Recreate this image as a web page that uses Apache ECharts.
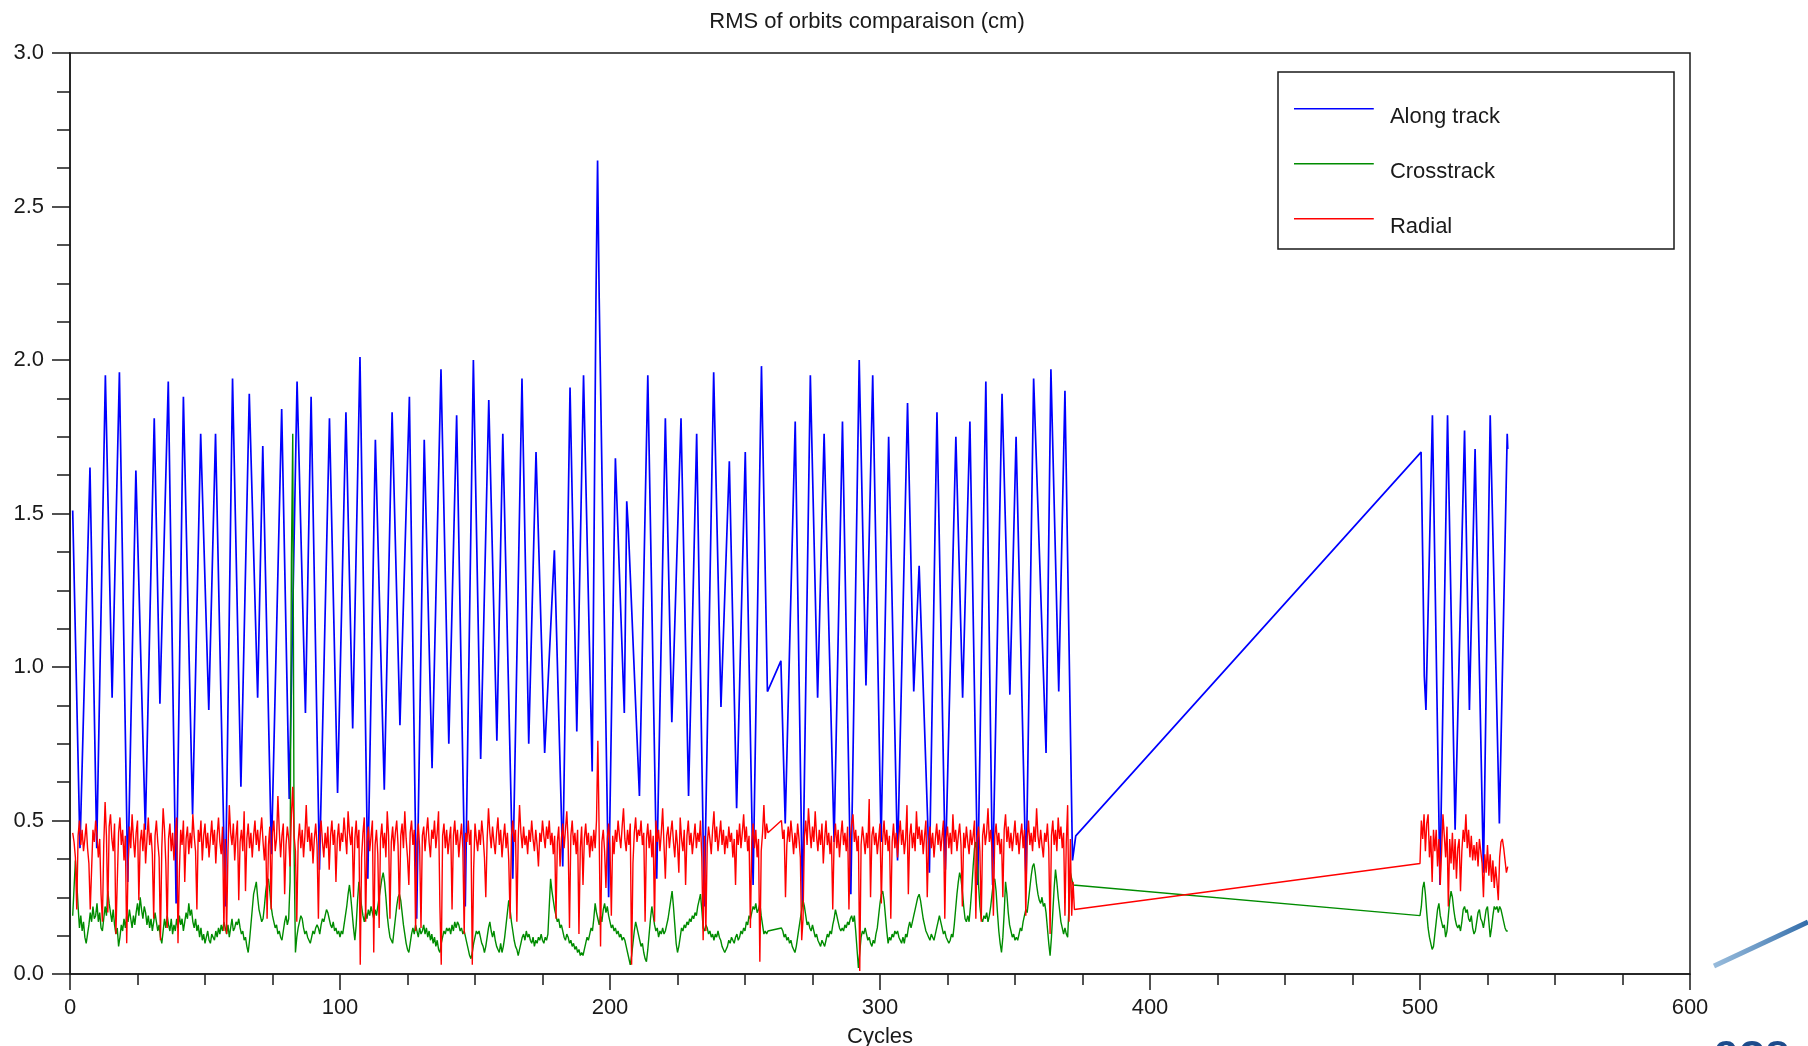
<!DOCTYPE html>
<html>
<head>
<meta charset="utf-8">
<title>RMS of orbits comparaison (cm)</title>
<script src="https://cdn.jsdelivr.net/npm/echarts@6/dist/echarts.min.js"></script>
<style>
html, body { margin: 0; padding: 0; background: #fff; }
#chart { width: 1808px; height: 1046px; }
</style>
</head>
<body>
<div id="chart"></div>
<script>
// series names (legend order)
const seriesNames = ['Along track', 'Crosstrack', 'Radial'];
const xTicks = [0, 100, 200, 300, 400, 500, 600];

// Along track: peaks and troughs [cycle], [cm]
const alongCycles = [
  1.0, 3.7, 7.4, 9.9, 13.1, 15.6, 18.3, 21.4, 24.4, 27.9, 31.2, 33.3, 36.4, 39.3, 42.0, 45.4, 48.4, 51.4, 53.9, 57.5,
  60.2, 63.3, 66.4, 69.5, 71.4, 74.6, 78.4, 81.2, 84.1, 87.2, 89.3, 92.4, 96.1, 99.1, 102.2, 104.7, 107.4, 110.3, 113.1, 116.4,
  119.3, 122.2, 125.7, 128.4, 131.2, 134.1, 137.4, 140.3, 143.2, 146.4, 149.4, 152.1, 155.1, 158.1, 160.3, 164.0, 167.4, 169.9, 172.6, 175.8,
  179.4, 182.5, 185.2, 187.7, 190.2, 193.4, 194.8, 195.4, 196.0, 199.5, 202.0, 202.7, 205.3, 206.2, 206.8, 210.9, 214.0, 217.3, 220.5, 222.9,
  226.3, 229.1, 232.1, 234.9, 238.4, 241.1, 244.2, 246.9, 250.1, 253.0, 256.1, 258.3, 263.3, 264.9, 268.6, 271.3, 274.2, 276.9, 279.3, 283.0,
  286.1, 289.2, 292.3, 294.8, 297.3, 300.4, 303.2, 306.5, 310.2, 312.5, 314.5, 318.3, 321.1, 324.2, 328.1, 330.6, 333.3, 336.2, 339.2, 341.7,
  345.2, 348.1, 350.4, 354.1, 356.9, 361.5, 363.3, 366.2, 368.5, 371.3, 372.5,
  500.4, 501.0, 501.6, 502.2, 504.6, 507.4, 510.2, 513.0, 516.5, 518.3, 520.4, 523.5, 526.0, 529.4, 532.3, 532.5
];
const alongValues = [
  1.51, 0.41, 1.65, 0.41, 1.95, 0.90, 1.96, 0.30, 1.64, 0.47, 1.81, 0.88, 1.93, 0.23, 1.88, 0.52, 1.76, 0.86, 1.76, 0.22,
  1.94, 0.61, 1.89, 0.90, 1.72, 0.39, 1.84, 0.57, 1.93, 0.85, 1.88, 0.34, 1.81, 0.59, 1.83, 0.80, 2.01, 0.31, 1.74, 0.60,
  1.83, 0.81, 1.88, 0.18, 1.74, 0.67, 1.97, 0.75, 1.82, 0.22, 2.00, 0.70, 1.87, 0.76, 1.76, 0.31, 1.94, 0.75, 1.70, 0.72,
  1.38, 0.35, 1.91, 0.79, 1.95, 0.66, 2.20, 2.65, 2.20, 0.25, 1.68, 1.68, 0.85, 1.54, 1.45, 0.58, 1.95, 0.31, 1.81, 0.82,
  1.81, 0.58, 1.76, 0.22, 1.96, 0.87, 1.67, 0.54, 1.70, 0.29, 1.98, 0.92, 1.02, 0.49, 1.80, 0.22, 1.95, 0.90, 1.76, 0.43,
  1.80, 0.26, 2.00, 0.94, 1.95, 0.43, 1.75, 0.37, 1.86, 0.92, 1.33, 0.33, 1.83, 0.34, 1.75, 0.90, 1.80, 0.29, 1.93, 0.29,
  1.89, 0.91, 1.75, 0.30, 1.94, 0.72, 1.97, 0.92, 1.90, 0.37, 0.45,
  1.70, 1.36, 0.97, 0.86, 1.82, 0.29, 1.82, 0.47, 1.77, 0.86, 1.71, 0.33, 1.82, 0.49, 1.76, 1.71
];

// Radial and Crosstrack are sampled every half cycle
const sampleStep = 0.5;
const firstStart = 1;     // first block: cycles 1 .. 372
const secondStart = 500;  // second block: cycles 500 .. 532.5

const radialFirst = [
  0.46,0.43,0.38,0.21,0.45,0.50,0.42,0.47,0.40,0.44,0.49,0.41,0.36,0.21,0.34,0.47,0.43,0.50,0.45,0.38,
  0.44,0.26,0.17,0.42,0.56,0.45,0.20,0.48,0.52,0.44,0.40,0.49,0.13,0.30,0.46,0.51,0.42,0.47,0.37,0.45,
  0.10,0.35,0.48,0.41,0.52,0.44,0.38,0.46,0.50,0.24,0.43,0.47,0.40,0.49,0.36,0.44,0.51,0.42,0.46,0.39,
  0.18,0.45,0.50,0.43,0.38,0.11,0.41,0.54,0.47,0.36,0.15,0.44,0.49,0.40,0.46,0.37,0.45,0.51,0.10,0.33,
  0.47,0.42,0.50,0.30,0.44,0.48,0.39,0.46,0.41,0.52,0.45,0.40,0.21,0.47,0.43,0.50,0.37,0.45,0.49,0.41,
  0.46,0.38,0.44,0.50,0.42,0.47,0.36,0.45,0.51,0.43,0.39,0.48,0.14,0.44,0.13,0.40,0.55,0.46,0.42,0.49,
  0.37,0.45,0.50,0.24,0.43,0.47,0.40,0.53,0.27,0.44,0.49,0.41,0.46,0.38,0.45,0.50,0.42,0.47,0.40,0.46,
  0.51,0.43,0.37,0.45,0.18,0.42,0.48,0.21,0.46,0.50,0.40,0.44,0.58,0.47,0.38,0.45,0.49,0.26,0.42,0.48,
  0.44,0.35,0.52,0.61,0.45,0.40,0.17,0.43,0.49,0.41,0.47,0.38,0.45,0.55,0.43,0.48,0.40,0.46,0.36,0.44,
  0.49,0.42,0.18,0.45,0.50,0.43,0.38,0.46,0.41,0.48,0.34,0.45,0.50,0.42,0.47,0.30,0.44,0.49,0.40,0.46,
  0.43,0.51,0.45,0.39,0.53,0.46,0.42,0.48,0.25,0.44,0.50,0.41,0.47,0.03,0.38,0.46,0.51,0.17,0.43,0.48,
  0.40,0.45,0.50,0.07,0.42,0.47,0.39,0.15,0.44,0.49,0.41,0.46,0.38,0.53,0.45,0.18,0.43,0.48,0.40,0.46,
  0.50,0.42,0.21,0.45,0.49,0.41,0.53,0.44,0.38,0.29,0.46,0.50,0.42,0.47,0.14,0.43,0.49,0.41,0.15,0.45,
  0.48,0.40,0.46,0.51,0.43,0.38,0.47,0.44,0.50,0.41,0.46,0.53,0.22,0.03,0.45,0.49,0.41,0.47,0.39,0.44,
  0.48,0.21,0.45,0.50,0.42,0.47,0.38,0.44,0.49,0.41,0.13,0.46,0.43,0.50,0.42,0.47,0.03,0.34,0.49,0.44,
  0.40,0.47,0.42,0.50,0.45,0.38,0.25,0.44,0.54,0.46,0.41,0.48,0.43,0.39,0.46,0.51,0.42,0.47,0.38,0.44,
  0.49,0.41,0.46,0.37,0.18,0.45,0.50,0.43,0.47,0.17,0.44,0.55,0.46,0.41,0.48,0.42,0.45,0.39,0.47,0.43,
  0.50,0.44,0.40,0.47,0.42,0.35,0.46,0.43,0.50,0.45,0.41,0.48,0.44,0.50,0.42,0.46,0.39,0.45,0.18,0.43,
  0.48,0.35,0.44,0.49,0.41,0.47,0.53,0.43,0.15,0.45,0.50,0.42,0.46,0.39,0.47,0.13,0.41,0.48,0.29,0.44,
  0.49,0.42,0.46,0.38,0.45,0.40,0.47,0.41,0.50,0.76,0.45,0.09,0.43,0.47,0.40,0.28,0.44,0.49,0.41,0.19,
  0.45,0.39,0.47,0.43,0.50,0.45,0.41,0.48,0.54,0.44,0.40,0.47,0.42,0.49,0.03,0.36,0.46,0.51,0.43,0.47,
  0.45,0.50,0.42,0.46,0.17,0.44,0.49,0.41,0.47,0.38,0.45,0.17,0.50,0.43,0.47,0.40,0.46,0.54,0.42,0.31,
  0.45,0.48,0.41,0.46,0.50,0.43,0.38,0.47,0.42,0.33,0.51,0.44,0.40,0.47,0.29,0.45,0.50,0.42,0.46,0.39,
  0.44,0.49,0.41,0.46,0.43,0.50,0.38,0.11,0.45,0.14,0.42,0.48,0.44,0.39,0.47,0.53,0.43,0.48,0.40,0.45,
  0.50,0.42,0.47,0.39,0.45,0.41,0.48,0.43,0.46,0.38,0.44,0.29,0.47,0.42,0.49,0.41,0.46,0.52,0.43,0.48,
  0.40,0.45,0.15,0.43,0.49,0.41,0.47,0.38,0.44,0.04,0.40,0.46,0.55,0.44,0.49,0.46,null,null,null,null,
  null,null,null,null,null,0.50,0.44,0.47,0.25,0.42,0.48,0.43,0.50,0.45,0.39,0.46,0.41,0.49,0.44,0.38,
  0.11,0.18,0.45,0.50,0.42,0.54,0.47,0.41,0.48,0.43,0.53,0.45,0.40,0.47,0.42,0.49,0.36,0.44,0.50,0.42,
  0.46,0.39,0.45,0.21,0.43,0.49,0.41,0.47,0.38,0.45,0.50,0.42,0.46,0.40,0.48,0.21,0.44,0.49,0.52,0.43,
  0.47,0.40,0.45,0.01,0.42,0.48,0.44,0.39,0.46,0.41,0.57,0.25,0.45,0.48,0.42,0.46,0.39,0.44,0.49,0.23,
  0.44,0.50,0.42,0.47,0.40,0.45,0.18,0.43,0.49,0.41,0.46,0.38,0.45,0.50,0.42,0.47,0.39,0.44,0.55,0.26,
  0.45,0.49,0.41,0.46,0.40,0.53,0.44,0.48,0.42,0.47,0.39,0.45,0.50,0.25,0.43,0.48,0.41,0.46,0.38,0.44,
  0.49,0.42,0.47,0.40,0.45,0.50,0.18,0.44,0.48,0.41,0.46,0.39,0.52,0.43,0.47,0.40,0.45,0.49,0.42,0.22,
  0.46,0.41,0.48,0.43,0.39,0.47,0.42,0.45,0.50,0.18,0.44,0.48,0.40,0.17,0.45,0.49,0.42,0.46,0.54,0.43,
  0.47,0.40,0.19,0.45,0.49,0.42,0.46,0.39,0.44,0.25,0.47,0.52,0.43,0.48,0.41,0.46,0.40,0.45,0.50,0.42,
  0.46,0.39,0.45,0.49,0.41,0.47,0.19,0.44,0.50,0.42,0.46,0.40,0.48,0.43,0.54,0.45,0.41,0.47,0.42,0.38,
  0.46,0.43,0.49,0.41,0.13,0.45,0.50,0.42,0.47,0.40,0.51,0.44,0.48,0.41,0.46,0.19,0.43,0.55,0.17,0.44,
  0.19,0.30,0.21
];
const radialSecond = [
  0.36,0.50,0.44,0.52,0.40,0.49,0.52,0.38,0.45,0.30,0.47,0.40,0.47,0.35,0.44,0.29,0.40,0.52,0.45,0.38,
  0.48,0.22,0.44,0.36,0.46,0.34,0.44,0.31,0.41,0.44,0.27,0.40,0.47,0.43,0.52,0.41,0.47,0.38,0.45,0.37,
  0.42,0.37,0.43,0.35,0.44,0.40,0.36,0.25,0.39,0.33,0.42,0.32,0.39,0.30,0.37,0.28,0.35,0.30,0.24,0.38,
  0.43,0.44,0.41,0.37,0.33,0.35
];

const crossFirst = [
  0.19,0.28,0.37,0.30,0.22,0.15,0.19,0.14,0.17,0.12,0.10,0.13,0.16,0.20,0.17,0.22,0.18,0.19,0.23,0.17,
  0.20,0.15,0.14,0.18,0.22,0.19,0.27,0.23,0.20,0.17,0.21,0.16,0.13,0.15,0.09,0.12,0.16,0.14,0.18,0.15,
  0.19,0.17,0.21,0.18,0.15,0.19,0.16,0.20,0.23,0.19,0.25,0.21,0.18,0.22,0.20,0.16,0.19,0.15,0.18,0.14,
  0.17,0.20,0.17,0.14,0.16,0.12,0.10,0.14,0.18,0.15,0.19,0.16,0.14,0.18,0.13,0.16,0.14,0.18,0.15,0.19,
  0.16,0.18,0.14,0.17,0.20,0.18,0.23,0.19,0.21,0.17,0.15,0.18,0.14,0.16,0.12,0.15,0.11,0.13,0.10,0.12,
  0.14,0.11,0.10,0.13,0.12,0.11,0.14,0.12,0.15,0.13,0.16,0.14,0.17,0.15,0.13,0.16,0.12,0.15,0.18,0.14,
  0.15,0.17,0.16,0.18,0.15,0.13,0.14,0.11,0.12,0.09,0.07,0.11,0.16,0.21,0.26,0.28,0.30,0.25,0.21,0.19,
  0.17,0.18,0.22,0.27,0.30,0.31,0.27,0.22,0.19,0.17,0.15,0.16,0.13,0.14,0.12,0.11,0.14,0.17,0.19,0.16,
  0.18,0.30,1.34,1.76,0.40,0.07,0.12,0.15,0.17,0.19,0.18,0.15,0.13,0.14,0.12,0.11,0.10,0.12,0.14,0.13,
  0.15,0.16,0.15,0.13,0.16,0.18,0.17,0.19,0.21,0.20,0.18,0.16,0.15,0.17,0.14,0.15,0.13,0.14,0.12,0.14,
  0.13,0.16,0.19,0.22,0.26,0.29,0.25,0.20,0.15,0.11,0.16,0.24,0.30,0.26,0.22,0.19,0.17,0.20,0.18,0.21,
  0.19,0.22,0.20,0.18,0.21,0.19,0.22,0.25,0.28,0.31,0.33,0.30,0.25,0.19,0.15,0.12,0.11,0.10,0.14,0.18,
  0.22,0.25,0.26,0.24,0.20,0.16,0.13,0.10,0.08,0.07,0.10,0.13,0.15,0.13,0.16,0.14,0.12,0.15,0.13,0.14,
  0.16,0.13,0.15,0.12,0.14,0.11,0.13,0.10,0.12,0.09,0.11,0.08,0.07,0.10,0.12,0.14,0.13,0.15,0.14,0.15,
  0.13,0.16,0.14,0.17,0.15,0.17,0.16,0.14,0.15,0.13,0.14,0.12,0.10,0.08,0.06,0.05,0.07,0.10,0.12,0.14,
  0.13,0.14,0.12,0.10,0.09,0.07,0.09,0.12,0.15,0.17,0.14,0.12,0.14,0.11,0.09,0.08,0.07,0.10,0.07,0.09,
  0.12,0.16,0.20,0.24,0.21,0.17,0.14,0.11,0.09,0.08,0.06,0.08,0.10,0.12,0.13,0.11,0.14,0.12,0.13,0.11,
  0.10,0.12,0.09,0.11,0.10,0.12,0.11,0.13,0.11,0.10,0.12,0.11,0.13,0.22,0.31,0.27,0.24,0.21,0.19,0.17,
  0.18,0.15,0.16,0.14,0.12,0.11,0.13,0.12,0.10,0.11,0.09,0.10,0.08,0.09,0.07,0.08,0.06,0.07,0.06,0.08,
  0.10,0.12,0.11,0.13,0.15,0.14,0.18,0.23,0.20,0.18,0.16,0.19,0.17,0.21,0.23,0.20,0.22,0.19,0.17,0.15,
  0.16,0.14,0.15,0.13,0.14,0.12,0.13,0.11,0.12,0.11,0.09,0.07,0.05,0.03,0.06,0.10,0.14,0.17,0.15,0.13,
  0.11,0.09,0.10,0.07,0.05,0.04,0.08,0.13,0.18,0.22,0.19,0.16,0.14,0.15,0.12,0.14,0.13,0.15,0.13,0.14,
  0.16,0.18,0.21,0.24,0.27,0.22,0.16,0.10,0.07,0.09,0.12,0.15,0.14,0.16,0.15,0.17,0.16,0.18,0.17,0.19,
  0.18,0.20,0.19,0.22,0.24,0.26,0.21,0.15,0.14,0.16,0.15,0.13,0.14,0.12,0.13,0.11,0.13,0.12,0.14,0.12,
  0.11,0.09,0.08,0.07,0.08,0.09,0.11,0.10,0.12,0.11,0.10,0.12,0.13,0.11,0.12,0.14,0.13,0.15,0.14,0.17,
  0.16,0.19,0.18,0.20,0.22,0.21,0.23,0.20,0.21,0.23,0.19,0.16,0.13,0.14,0.13,0.14,null,null,null,null,
  null,null,null,null,null,0.15,0.14,0.12,0.13,0.11,0.12,0.10,0.11,0.09,0.08,0.07,0.09,0.12,0.15,0.18,
  0.21,0.24,0.22,0.19,0.16,0.17,0.15,0.14,0.16,0.14,0.12,0.13,0.11,0.10,0.09,0.11,0.10,0.09,0.11,0.13,
  0.12,0.14,0.13,0.16,0.18,0.21,0.19,0.17,0.15,0.14,0.15,0.14,0.16,0.15,0.17,0.16,0.18,0.19,0.17,0.19,
  0.14,0.08,0.02,0.07,0.12,0.14,0.13,0.15,0.13,0.11,0.12,0.10,0.09,0.11,0.10,0.13,0.15,0.19,0.23,0.26,
  0.27,0.24,0.19,0.14,0.10,0.12,0.11,0.13,0.12,0.14,0.13,0.14,0.12,0.11,0.10,0.12,0.10,0.13,0.12,0.15,
  0.17,0.15,0.17,0.19,0.21,0.23,0.25,0.26,0.24,0.21,0.18,0.16,0.14,0.13,0.12,0.11,0.13,0.12,0.11,0.13,
  0.15,0.17,0.19,0.17,0.15,0.13,0.14,0.12,0.11,0.10,0.11,0.13,0.12,0.16,0.21,0.26,0.30,0.33,0.31,0.27,
  0.22,0.18,0.17,0.19,0.17,0.22,0.28,0.35,0.41,0.43,0.37,0.29,0.22,0.18,0.17,0.19,0.18,0.20,0.17,0.19,
  0.22,0.26,0.30,0.31,0.27,0.20,0.14,0.10,0.07,0.12,0.20,0.30,0.26,0.20,0.16,0.14,0.12,0.13,0.11,0.12,
  0.11,0.13,0.15,0.14,0.17,0.19,0.21,0.20,0.24,0.28,0.32,0.35,0.36,0.33,0.29,0.26,0.24,0.23,0.25,0.22,
  0.23,0.20,0.15,0.10,0.06,0.12,0.20,0.28,0.34,0.30,0.25,0.21,0.17,0.15,0.13,0.15,0.13,0.12,0.22,0.33,
  0.31,0.29,0.29
];
const crossSecond = [
  0.19,0.22,0.28,0.30,0.26,0.20,0.15,0.12,0.10,0.08,0.09,0.13,0.17,0.21,0.23,0.19,0.17,0.15,0.16,0.12,
  0.14,0.19,0.24,0.27,0.25,0.21,0.18,0.16,0.15,0.16,0.14,0.17,0.21,0.22,0.20,0.21,0.18,0.17,0.19,0.15,
  0.13,0.14,0.17,0.20,0.21,0.18,0.17,0.15,0.18,0.21,0.22,0.17,0.12,0.15,0.19,0.22,0.21,0.22,0.20,0.22,
  0.21,0.19,0.17,0.15,0.14,0.14
];

function sampled(values, start) {
  // pair each sample with its cycle, skip missing samples so the line joins across them
  return values
    .map((v, i) => [start + i * sampleStep, v])
    .filter(p => p[1] !== null);
}

const alongData = alongCycles.map((c, i) => [c, alongValues[i]]);
const crossData = sampled(crossFirst, firstStart).concat(sampled(crossSecond, secondStart));
const radialData = sampled(radialFirst, firstStart).concat(sampled(radialSecond, secondStart));

const fontFamily = '"Liberation Sans", Arial, sans-serif';
const ink = '#1a1a1a';
const colors = ['#0000ff', '#008c00', '#ff0000'];

const chart = echarts.init(document.getElementById('chart'), null, { renderer: 'canvas' });

function lineSeries(name, data, color, width, z) {
  return {
    name: name,
    type: 'line',
    data: data,
    showSymbol: false,
    symbol: 'none',
    z: z,
    lineStyle: { color: color, width: width },
    itemStyle: { color: color },
    emphasis: { disabled: true }
  };
}

const option = {
  animation: false,
  backgroundColor: '#ffffff',
  textStyle: { fontFamily: fontFamily },
  title: {
    text: 'RMS of orbits comparaison (cm)',
    left: 862,
    top: 6,
    textAlign: 'center',
    textStyle: { fontFamily: fontFamily, fontSize: 22, fontWeight: 'normal', color: ink }
  },
  grid: {
    left: 70, right: 118, top: 53, bottom: 72,
    outerBoundsMode: 'none',
    containLabel: false,
    show: true, borderColor: ink, borderWidth: 1.5, backgroundColor: 'transparent'
  },
  legend: {
    orient: 'vertical',
    left: 1289,
    top: 100,
    itemWidth: 80,
    itemHeight: 18,
    itemGap: 31,
    selectedMode: false,
    icon: 'path://M0,0H80V1.5H0Z M0,18H0.05V18.05H0Z',
    textStyle: { fontFamily: fontFamily, fontSize: 22, color: ink, lineHeight: 24, padding: [0, 0, 0, 11] },
    data: seriesNames
  },
  graphic: [
    {
      type: 'rect',
      shape: { x: 1278, y: 72, width: 396, height: 177 },
      style: { fill: 'none', stroke: ink, lineWidth: 1.5 },
      silent: true
    },
    {
      // fragment of a logo swoosh cut by the right edge
      type: 'line',
      shape: { x1: 1714, y1: 966, x2: 1808, y2: 922 },
      style: {
        stroke: new echarts.graphic.LinearGradient(0, 0, 1, 0, [
          { offset: 0, color: 'rgba(110,160,205,0.7)' },
          { offset: 1, color: '#2f6aa8' }
        ]),
        lineWidth: 5
      },
      silent: true
    },
    {
      // top of the logo lettering cut by the bottom edge
      type: 'text',
      x: 1714,
      y: 1031,
      style: { text: 'aos', fill: '#1d4c8c', font: 'bold 44px "Liberation Sans", Arial, sans-serif' },
      silent: true
    }
  ],
  xAxis: {
    type: 'value',
    min: xTicks[0],
    max: xTicks[xTicks.length - 1],
    interval: 100,
    name: 'Cycles',
    nameLocation: 'middle',
    nameGap: 52,
    nameTextStyle: { fontFamily: fontFamily, fontSize: 22, color: ink },
    axisLine: { show: true, onZero: false, lineStyle: { color: ink, width: 1.5 } },
    axisTick: { show: true, length: 16, lineStyle: { color: ink, width: 1.5 } },
    minorTick: { show: true, splitNumber: 4, length: 11, lineStyle: { color: ink, width: 1.5 } },
    axisLabel: { margin: 23, fontFamily: fontFamily, fontSize: 22, color: ink },
    splitLine: { show: false },
    minorSplitLine: { show: false }
  },
  yAxis: {
    type: 'value',
    min: 0,
    max: 3,
    interval: 0.5,
    axisLine: { show: true, onZero: false, lineStyle: { color: ink, width: 1.5 } },
    axisTick: { show: true, length: 18, lineStyle: { color: ink, width: 1.5 } },
    minorTick: { show: true, splitNumber: 4, length: 13, lineStyle: { color: ink, width: 1.5 } },
    axisLabel: {
      margin: 26, fontFamily: fontFamily, fontSize: 22, color: ink,
      formatter: v => v.toFixed(1)
    },
    splitLine: { show: false },
    minorSplitLine: { show: false }
  },
  series: [
    lineSeries(seriesNames[0], alongData, colors[0], 1.7, 2),
    lineSeries(seriesNames[1], crossData, colors[1], 1.4, 3),
    lineSeries(seriesNames[2], radialData, colors[2], 1.4, 4)
  ]
};

chart.setOption(option);
window.addEventListener('resize', () => chart.resize());
</script>
</body>
</html>
